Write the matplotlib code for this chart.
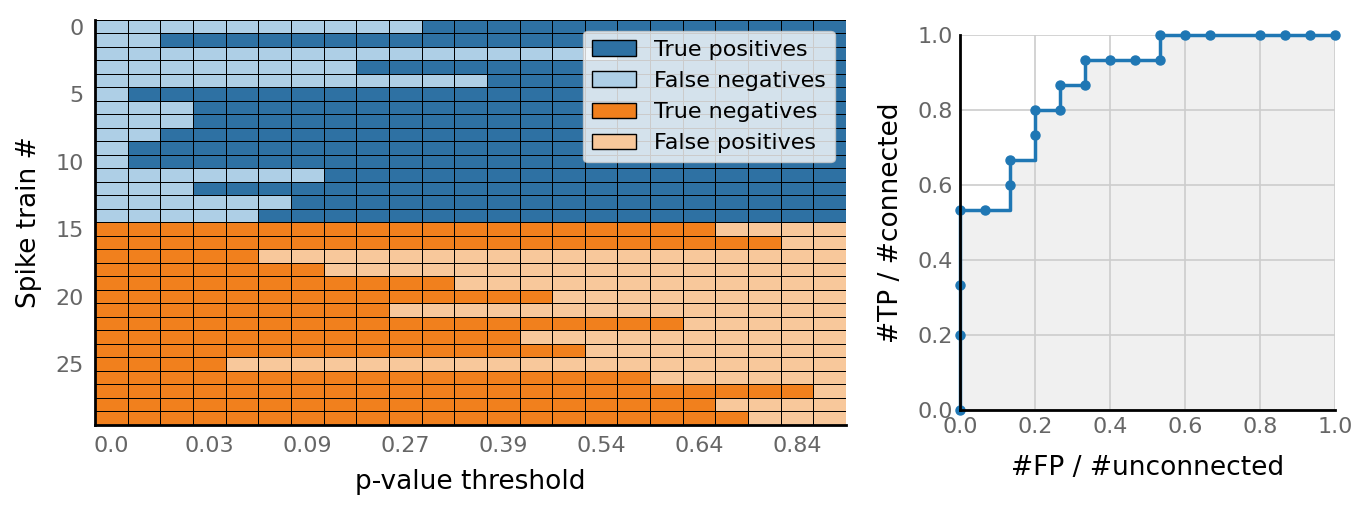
import numpy as np
import matplotlib
matplotlib.use("Agg")
import matplotlib.pyplot as plt
from matplotlib.colors import ListedColormap
from matplotlib.patches import Patch

# column (threshold index) at which each spike train is first called "connected"
onset_connected = [10, 2, 16, 8, 12, 1, 3, 3, 2, 1, 1, 7, 3, 6, 5]
onset_unconnected = [19, 21, 5, 7, 11, 14, 9, 18, 13, 15, 4, 17, 22, 19, 20]
n_thresholds = 23
tick_cols = [0, 3, 6, 9, 12, 15, 18, 21]
tick_labels = ["0.0", "0.03", "0.09", "0.27", "0.39", "0.54", "0.64", "0.84"]

class_names = ["True positives", "False negatives", "True negatives", "False positives"]
class_colors = ["#2e71a3", "#aecfe6", "#f1801d", "#f8c89b"]
tick_color = "#666666"


def build_states():
    cols = np.arange(n_thresholds)
    rows = []
    for onset in onset_connected:
        rows.append(np.where(cols >= onset, 0, 1))
    for onset in onset_unconnected:
        rows.append(np.where(cols >= onset, 3, 2))
    return np.array(rows)


def roc_points():
    con = np.array(onset_connected)
    unc = np.array(onset_unconnected)
    tpr = [np.sum(con <= c) / len(con) for c in range(n_thresholds)]
    fpr = [np.sum(unc <= c) / len(unc) for c in range(n_thresholds)]
    return np.array(fpr), np.array(tpr)


states = build_states()
fpr, tpr = roc_points()

fig = plt.figure(figsize=(13.71, 5.14), dpi=100)

# left: outcome per spike train and threshold
ax1 = fig.add_axes([0.0693, 0.1732, 0.5478, 0.788])
ax1.pcolormesh(np.arange(n_thresholds + 1) - 0.5, np.arange(len(states) + 1) - 0.5,
               states, cmap=ListedColormap(class_colors), vmin=-0.5, vmax=3.5,
               edgecolors="k", linewidth=0.6)
ax1.set_xlim(-0.5, n_thresholds - 0.5)
ax1.set_ylim(len(states) - 0.5, -0.5)
ax1.set_xticks(tick_cols)
ax1.set_xticklabels(tick_labels)
ax1.set_yticks(np.arange(0, 30, 5))
ax1.tick_params(length=0, labelsize=16, labelcolor=tick_color, pad=8)
for s in ["top", "right"]:
    ax1.spines[s].set_visible(False)
for s in ["left", "bottom"]:
    ax1.spines[s].set_linewidth(2)
ax1.set_xlabel("p-value threshold", fontsize=19, labelpad=9)
ax1.set_ylabel("Spike train #", fontsize=19, labelpad=10)
handles = [Patch(facecolor=c, edgecolor="k", label=n) for c, n in zip(class_colors, class_names)]
ax1.legend(handles=handles, loc="upper right", fontsize=16, framealpha=0.8)

# right: ROC curve
ax2 = fig.add_axes([0.7002, 0.2023, 0.2735, 0.7296])
ax2.fill_between(fpr, tpr, step="post", color="#f0f0f0", zorder=0.5, linewidth=0)
ax2.plot(fpr, tpr, drawstyle="steps-post", marker="o", markersize=6.5,
         color="#1f77b4", linewidth=2.5, clip_on=False, zorder=3)
ax2.set_xlim(0, 1)
ax2.set_ylim(0, 1)
ax2.set_xticks(np.arange(0, 1.01, 0.2))
ax2.set_yticks(np.arange(0, 1.01, 0.2))
ax2.grid(True, color="#cccccc", linewidth=1.2)
ax2.tick_params(length=0, labelsize=16, labelcolor=tick_color, pad=5)
for s in ["top", "right"]:
    ax2.spines[s].set_visible(False)
for s in ["left", "bottom"]:
    ax2.spines[s].set_linewidth(2)
    ax2.spines[s].set_zorder(4)
ax2.set_xlabel("#FP / #unconnected", fontsize=19, labelpad=13)
ax2.set_ylabel("#TP / #connected", fontsize=19, labelpad=10)

fig.savefig("out.png", dpi=100)
